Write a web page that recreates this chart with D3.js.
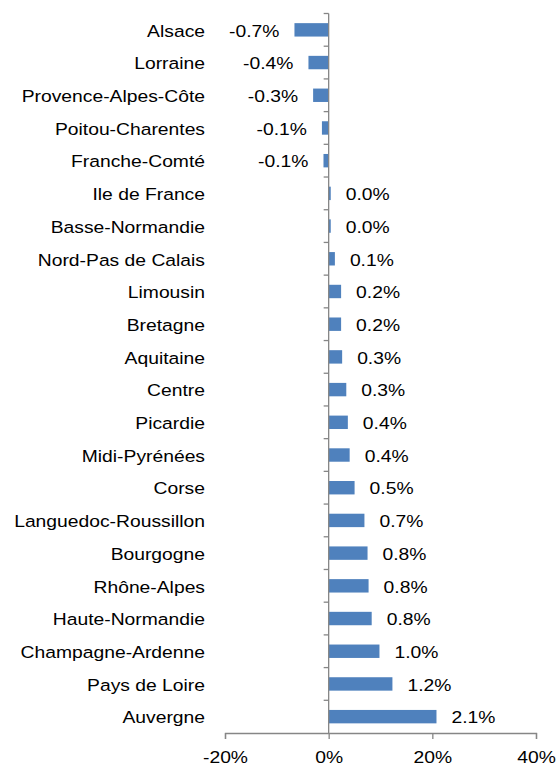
<!DOCTYPE html>
<html>
<head>
<meta charset="utf-8">
<script src="https://cdn.jsdelivr.net/npm/d3@7"></script>
<style>
  body { margin: 0; background: #fff; }
  text { font-family: 'Liberation Sans', Arial, sans-serif; fill: #000; }
</style>
</head>
<body>
<div id="chart"></div>
<script>
const regions = ['Alsace', 'Lorraine', 'Provence-Alpes-Côte', 'Poitou-Charentes', 'Franche-Comté',
  'Ile de France', 'Basse-Normandie', 'Nord-Pas de Calais', 'Limousin', 'Bretagne', 'Aquitaine',
  'Centre', 'Picardie', 'Midi-Pyrénées', 'Corse', 'Languedoc-Roussillon', 'Bourgogne',
  'Rhône-Alpes', 'Haute-Normandie', 'Champagne-Ardenne', 'Pays de Loire', 'Auvergne']

// bar lengths, in the units of the x axis
const values = [-6.6, -3.9, -3.0, -1.3, -1.0, 0.4, 0.4, 1.2, 2.4, 2.4, 2.6,
  3.4, 3.7, 4.05, 5.0, 6.9, 7.5, 7.7, 8.3, 9.8, 12.3, 20.8]

// data labels as printed on the chart
const valueLabels = ['-0.7%', '-0.4%', '-0.3%', '-0.1%', '-0.1%', '0.0%', '0.0%', '0.1%', '0.2%', '0.2%', '0.3%',
  '0.3%', '0.4%', '0.4%', '0.5%', '0.7%', '0.8%', '0.8%', '0.8%', '1.0%', '1.2%', '2.1%']

const xTicks = [-20, 0, 20, 40]
const xTickLabels = ['-20%', '0%', '20%', '40%']

const W = 557
const H = 765
const fontSize = 16.5
const stretch = 1.17 // text in the original is drawn a little wide
const axisColor = '#868686'

const svg = d3.select('#chart')
  .append('svg')
  .attr('width', W)
  .attr('height', H)

const x = d3.scaleLinear()
  .domain([-20, 40])
  .range([225, 536])

const y = d3.scaleBand()
  .domain(regions)
  .range([13.5, 733])
  .paddingInner(0.59)
  .paddingOuter(0.295)

const data = regions.map((r, i) => ({ region: r, value: values[i], label: valueLabels[i] }))

function place (sel, fx, fy) {
  sel.attr('x', 0).attr('y', 0)
    .attr('transform', (d, i) => 'translate(' + fx(d, i) + ',' + fy(d, i) + ') scale(' + stretch + ',1)')
    .attr('font-size', fontSize)
}

// bars
svg.append('g')
  .selectAll('rect')
  .data(data)
  .enter().append('rect')
  .attr('x', d => x(Math.min(0, d.value)))
  .attr('y', d => y(d.region))
  .attr('width', d => Math.abs(x(d.value) - x(0)))
  .attr('height', y.bandwidth())
  .attr('fill', '#4f81bd')

// value labels
svg.append('g')
  .selectAll('text')
  .data(data)
  .enter().append('text')
  .attr('dy', '0.38em')
  .attr('text-anchor', d => d.value < 0 ? 'end' : 'start')
  .call(place,
    d => d.value < 0 ? x(d.value) - 15 : x(d.value) + 15,
    d => y(d.region) + y.bandwidth() / 2 + 0.5)
  .text(d => d.label)

// category labels
svg.append('g')
  .selectAll('text')
  .data(regions)
  .enter().append('text')
  .attr('dy', '0.38em')
  .attr('text-anchor', 'end')
  .call(place, d => 205, d => y(d) + y.bandwidth() / 2 + 0.5)
  .text(d => d)

// x axis
const xAxis = d3.axisBottom(x)
  .tickValues(xTicks)
  .tickSize(6)
  .tickFormat((d, i) => xTickLabels[i])

const gx = svg.append('g')
  .attr('transform', 'translate(0,' + y.range()[1] + ')')
  .call(xAxis)
gx.select('.domain').attr('stroke', axisColor).attr('stroke-width', 1.3)
gx.selectAll('.tick line').attr('stroke', axisColor).attr('stroke-width', 1.3)
gx.selectAll('.tick text')
  .attr('font-family', "'Liberation Sans', Arial, sans-serif")
  .attr('fill', '#000')
  .attr('dy', null)
  .call(place, () => 0, () => 29.5)

// y axis: line at zero with ticks on band boundaries
const gap = y.step() * y.paddingInner() / 2
const bounds = regions.map(r => y(r) - gap).concat([y(regions[regions.length - 1]) + y.bandwidth() + gap])

svg.append('line')
  .attr('x1', x(0)).attr('x2', x(0))
  .attr('y1', bounds[0]).attr('y2', bounds[bounds.length - 1])
  .attr('stroke', axisColor)
  .attr('stroke-width', 1.3)

svg.append('g')
  .selectAll('line')
  .data(bounds.slice(0, -1))
  .enter().append('line')
  .attr('x1', x(0) - 5).attr('x2', x(0))
  .attr('y1', d => d).attr('y2', d => d)
  .attr('stroke', axisColor)
  .attr('stroke-width', 1.3)
</script>
</body>
</html>
